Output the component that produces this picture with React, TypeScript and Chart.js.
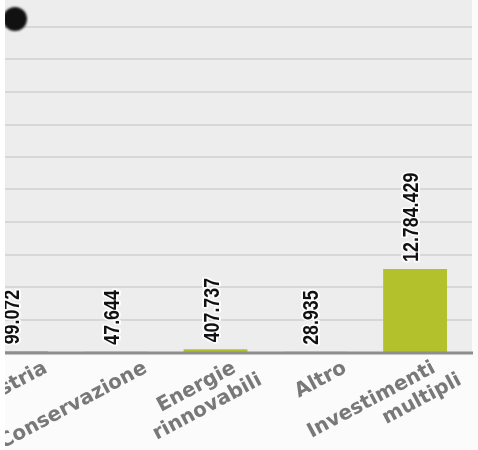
import { useEffect, useRef } from "react";
import { Chart, registerables } from "chart.js";

Chart.register(...registerables);

// ---- data ----
const categories: string[][] = [
  ["Industria"],
  ["Conservazione"],
  ["Energie", "rinnovabili"],
  ["Altro"],
  ["Investimenti", "multipli"],
];
const values: number[] = [99072, 47644, 407737, 28935, 12784429];
const yMax = 54000000;
const yStep = 5000000;

// ---- style ----
const BAR_COLOR = "#b2c12c";
const PLOT_BG = "#ededed";
const GRID_COLOR = "#d7d7d7";
const BASE_COLOR = "#8e8e8e";
const PLOT_RIGHT = 512; // canvas px where the grey plot panel ends
const LABEL_ANGLE = (28 * Math.PI) / 180;

const fmt = (v: number) => String(v).replace(/\B(?=(\d{3})+(?!\d))/g, ".");

const decoPlugin = {
  id: "deco",
  beforeDatasetsDraw(chart: any) {
    const { ctx, chartArea: ca } = chart;
    const y = chart.scales.y;
    ctx.save();
    ctx.fillStyle = "#fbfbfb";
    ctx.fillRect(0, 0, chart.width, chart.height);
    ctx.fillStyle = PLOT_BG;
    ctx.fillRect(0, 0, PLOT_RIGHT, ca.bottom);
    ctx.strokeStyle = GRID_COLOR;
    ctx.lineWidth = 2;
    for (let v = yStep; v <= yMax; v += yStep) {
      const py = Math.round(y.getPixelForValue(v));
      ctx.beginPath();
      ctx.moveTo(0, py);
      ctx.lineTo(PLOT_RIGHT, py);
      ctx.stroke();
    }
    ctx.restore();
  },
  afterDatasetsDraw(chart: any) {
    const { ctx, chartArea: ca } = chart;
    const x = chart.scales.x;
    const y = chart.scales.y;
    ctx.save();
    // baseline
    ctx.strokeStyle = BASE_COLOR;
    ctx.lineWidth = 3;
    ctx.beginPath();
    ctx.moveTo(0, ca.bottom + 1);
    ctx.lineTo(PLOT_RIGHT + 1, ca.bottom + 1);
    ctx.stroke();

    // value labels (vertical)
    values.forEach((v, i) => {
      const cx = x.getPixelForValue(i) - 3;
      const y0 = y.getPixelForValue(v) - 7;
      ctx.save();
      ctx.translate(cx, y0);
      ctx.rotate(-Math.PI / 2);
      ctx.scale(0.81, 1);
      ctx.font = "bold 22px 'Liberation Sans', Arial, sans-serif";
      ctx.textAlign = "left";
      ctx.textBaseline = "middle";
      ctx.lineJoin = "round";
      ctx.lineWidth = 4;
      ctx.strokeStyle = "rgba(255,255,255,0.85)";
      ctx.strokeText(fmt(v), 0, 0);
      ctx.fillStyle = "#111111";
      ctx.fillText(fmt(v), 0, 0);
      ctx.restore();
    });

    // category labels (rotated)
    categories.forEach((lines, i) => {
      const tick = x.getPixelForValue(i);
      const n = lines.length;
      lines.forEach((line, j) => {
        const px = tick + 30 - (n - 1) * 11 + j * 26;
        const py = ca.bottom + 15 + j * 12;
        ctx.save();
        ctx.translate(px, py);
        ctx.rotate(-LABEL_ANGLE);
        ctx.font = "bold 20px 'DejaVu Sans', sans-serif";
        ctx.textAlign = "right";
        ctx.textBaseline = "middle";
        ctx.fillStyle = "#787878";
        ctx.fillText(line, 0, 0);
        ctx.restore();
      });
    });

    // black marker top-left
    ctx.save();
    ctx.filter = "blur(1.2px)";
    ctx.fillStyle = "#111";
    ctx.beginPath();
    ctx.arc(55, 19, 12, 0, Math.PI * 2);
    ctx.fill();
    ctx.restore();

    ctx.restore();
  },
};

export default function App() {
  const ref = useRef<HTMLCanvasElement | null>(null);
  useEffect(() => {
    if (!ref.current) return;
    const chart = new Chart(ref.current, {
      type: "bar",
      data: {
        labels: categories.map((c) => c.join(" ")),
        datasets: [
          {
            data: values,
            backgroundColor: BAR_COLOR,
            borderWidth: 0,
            barPercentage: 0.64,
            categoryPercentage: 1,
          },
        ],
      },
      options: {
        animation: false,
        responsive: false,
        maintainAspectRatio: false,
        devicePixelRatio: 1,
        layout: { padding: { left: 6, right: 15, top: 1, bottom: 98 } },
        plugins: { legend: { display: false }, tooltip: { enabled: false } },
        scales: {
          x: { display: false },
          y: { display: false, min: 0, max: yMax },
        },
      },
      plugins: [decoPlugin],
    });
    return () => chart.destroy();
  }, []);

  return (
    <div
      style={{
        position: "fixed",
        left: 0,
        top: 0,
        width: 478,
        height: 450,
        background: "#ffffff",
        overflow: "hidden",
      }}
    >
      <div
        style={{
          position: "absolute",
          left: 5,
          top: 0,
          width: 473,
          height: 450,
          overflow: "hidden",
        }}
      >
        <canvas
          ref={ref}
          width={520}
          height={450}
          style={{ position: "absolute", left: -45, top: 0, width: 520, height: 450 }}
        />
      </div>
    </div>
  );
}
